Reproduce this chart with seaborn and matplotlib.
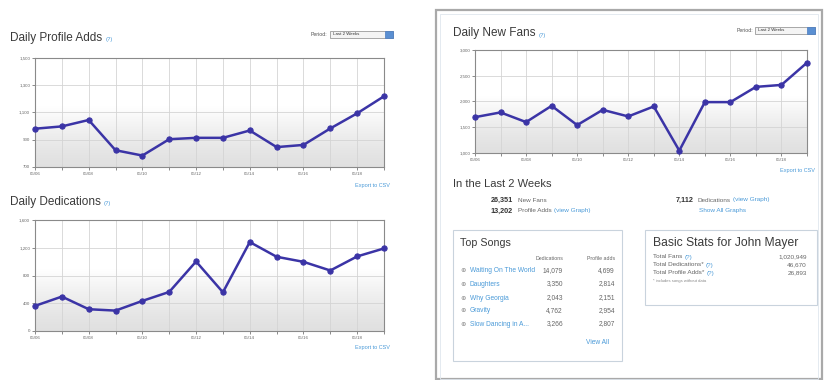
import matplotlib
matplotlib.use('Agg')
import matplotlib.pyplot as plt
import seaborn as sns
import numpy as np
import pandas as pd
from matplotlib.patches import Rectangle

# ---------------- data ----------------
dates = ['05/06', '05/07', '05/08', '05/09', '05/10', '05/11', '05/12',
         '05/13', '05/14', '05/15', '05/16', '05/17', '05/18', '05/19']
profile_adds = [981, 998, 1045, 823, 784, 904, 914, 914, 968, 846, 862, 983, 1094, 1219]
dedications = [362, 496, 314, 294, 434, 563, 1002, 558, 1282, 1070, 997, 872, 1075, 1190]
new_fans = [1696, 1788, 1600, 1916, 1542, 1838, 1710, 1904, 1046, 1988, 1988, 2284, 2322, 2754]

profile_yticks = [700, 900, 1100, 1300, 1500]
profile_ylabels = ['700', '900', '1,100', '1,300', '1,500']
ded_yticks = [0, 400, 800, 1200, 1600]
ded_ylabels = ['0', '400', '800', '1,200', '1,600']
fans_yticks = [1000, 1500, 2000, 2500, 3000]
fans_ylabels = ['1,000', '1,500', '2,000', '2,500', '3,000']

summary_numbers = ['26,351', '13,202', '7,112']
summary_labels = ['New Fans', 'Profile Adds', 'Dedications']

song_names = ['Waiting On The World', 'Daughters', 'Why Georgia', 'Gravity', 'Slow Dancing in A...']
song_dedications = ['14,079', '3,350', '2,043', '4,762', '3,266']
song_profile_adds = ['4,699', '2,814', '2,151', '2,954', '2,807']

stat_labels = ['Total Fans', 'Total Dedications*', 'Total Profile Adds*']
stat_values = ['1,020,949', '46,670', '26,893']

# ---------------- style ----------------
sns.set_theme(style='white')
plt.rcParams['font.family'] = ['Liberation Sans', 'DejaVu Sans']

W, H = 824, 380
fig = plt.figure(figsize=(8.24, 3.8), dpi=100)
fig.patch.set_facecolor('white')
renderer = fig.canvas.get_renderer()

LINE = '#3b34a6'
LINK = '#4a9ad8'
DARK = '#333333'
GREY = '#666666'


def fx(x):
    return x / W


def fy(y):
    return 1 - y / H


def txt(x, y, s, size, color=DARK, ha='left', weight='normal', va='center', family=None):
    kw = {}
    if family is not None:
        kw['family'] = family
    return fig.text(fx(x), fy(y), s, fontsize=size, color=color, ha=ha, va=va,
                    fontweight=weight, **kw)


def after(t, y, s, size, color=LINK, gap=3):
    """place text s right after text object t (pixel gap)"""
    bb = t.get_window_extent(renderer=renderer)
    return txt(bb.x1 + gap, y, s, size, color)


def frect(x0, y0, x1, y1, fc='white', ec='#999999', lw=0.8, z=0):
    fig.add_artist(Rectangle((fx(x0), fy(y1)), (x1 - x0) / W, (y1 - y0) / H,
                             transform=fig.transFigure, facecolor=fc,
                             edgecolor=ec, linewidth=lw, zorder=z))


# right panel background
frect(436, 10, 822, 379, fc='white', ec='#a9a9a9', lw=1.6, z=0)
frect(440, 14, 818, 379, fc='none', ec='#dfe6ee', lw=0.6, z=0)


def chart(x0, y0, x1, y1, values, yticks, ylabels):
    ax = fig.add_axes([fx(x0), fy(y1), (x1 - x0) / W, (y1 - y0) / H])
    n = len(values)
    df = pd.DataFrame({'day': np.arange(n), 'value': values})
    # background gradient: white top, light grey towards bottom
    t = np.linspace(1, 0, 200)[:, None]
    g = np.where(t > 0.55, 1.0, 0.88 + (1 - 0.88) * (t / 0.55) ** 1.3)
    img = np.dstack([g, g, g])
    ax.imshow(img, extent=[0, n - 1, yticks[0], yticks[-1]], aspect='auto',
              zorder=0, interpolation='bilinear')
    sns.lineplot(data=df, x='day', y='value', ax=ax, color=LINE, linewidth=1.8,
                 marker='o', markersize=3.8, markeredgecolor=LINE,
                 clip_on=False, zorder=3)
    ax.set_xlim(0, n - 1)
    ax.set_ylim(yticks[0], yticks[-1])
    ax.set_xticks(range(n))
    ax.set_xticklabels([d if i % 2 == 0 else '' for i, d in enumerate(dates)])
    ax.set_yticks(yticks)
    ax.set_yticklabels(ylabels)
    ax.set_xlabel('')
    ax.set_ylabel('')
    ax.grid(True, color='#d4d4d4', linewidth=0.6)
    ax.set_axisbelow(True)
    ax.tick_params(axis='both', length=2, width=0.6, color='#777777',
                   labelsize=3.2, labelcolor='#666666', pad=1.5)
    ax.tick_params(axis='both', which='both', bottom=True, left=True)
    for s in ax.spines.values():
        s.set_color('#8a8a8a')
        s.set_linewidth(0.8)
    return ax


def dropdown(label_right, bx0, bx1, yc):
    txt(label_right, yc, 'Period:', 3.8, '#555555', ha='right')
    frect(bx0, yc - 3.5, bx1, yc + 3.5, fc='#f4f4f4', ec='#9a9a9a', lw=0.6, z=2)
    txt(bx0 + 3, yc, 'Last 2 Weeks', 3.2, '#333333')
    frect(bx1 - 8, yc - 3.5, bx1, yc + 3.5, fc='#5a8fd2', ec='#4a7cc0', lw=0.5, z=3)


# ---------- left top: Daily Profile Adds ----------
t = txt(10, 38, 'Daily Profile Adds', 8.5, '#3a3a3a')
after(t, 40, '(?)', 4.2)
dropdown(327, 330, 393, 34)
chart(35, 58, 384, 167, profile_adds, profile_yticks, profile_ylabels)
txt(390, 186, 'Export to CSV', 4.0, LINK, ha='right')

# ---------- left bottom: Daily Dedications ----------
t = txt(10, 202, 'Daily Dedications', 8.5, '#3a3a3a')
after(t, 204, '(?)', 4.2)
chart(35, 220, 384, 331, dedications, ded_yticks, ded_ylabels)
txt(390, 348, 'Export to CSV', 4.0, LINK, ha='right')

# ---------- right: Daily New Fans ----------
t = txt(453, 33, 'Daily New Fans', 8.5, '#3a3a3a')
after(t, 35, '(?)', 4.2)
dropdown(753, 755, 815, 30)
chart(475, 50, 807, 153, new_fans, fans_yticks, fans_ylabels)
txt(815, 170, 'Export to CSV', 4.0, LINK, ha='right')

# ---------- In the Last 2 Weeks ----------
txt(453, 184, 'In the Last 2 Weeks', 8.0, '#3a3a3a')
txt(513, 200, summary_numbers[0], 5.2, DARK, ha='right', weight='bold')
txt(518, 200, summary_labels[0], 4.6, GREY)
txt(513, 211, summary_numbers[1], 5.2, DARK, ha='right', weight='bold')
t = txt(518, 211, summary_labels[1], 4.6, GREY)
after(t, 211, '(view Graph)', 4.6, gap=2)
txt(694, 200, summary_numbers[2], 5.2, DARK, ha='right', weight='bold')
t = txt(698, 200, summary_labels[2], 4.6, GREY)
after(t, 200, '(view Graph)', 4.6, gap=2)
txt(723, 211, 'Show All Graphs', 4.6, LINK, ha='center')

# ---------- Top Songs box ----------
frect(453, 230, 622, 361, fc='white', ec='#c9d3dd', lw=0.8, z=1)
txt(460, 243, 'Top Songs', 7.7, '#3a3a3a')
txt(563, 259, 'Dedications', 3.8, GREY, ha='right')
txt(615, 259, 'Profile adds', 3.8, GREY, ha='right')
row_y = [271, 284, 298, 311, 324]
for yy, name, d, p in zip(row_y, song_names, song_dedications, song_profile_adds):
    txt(463, yy, '\u2295', 4.6, '#8a8a8a', ha='center', family=['DejaVu Sans'])
    txt(470, yy, name, 4.8, LINK)
    txt(563, yy, d, 4.8, GREY, ha='right')
    txt(615, yy, p, 4.8, GREY, ha='right')
txt(597, 343, 'View All', 4.8, LINK, ha='center')

# ---------- Basic Stats box ----------
frect(645, 230, 817, 305, fc='white', ec='#c9d3dd', lw=0.8, z=1)
txt(653, 243, 'Basic Stats for John Mayer', 8.7, '#3a3a3a')
stat_y = [257, 265, 273]
for yy, lab, val in zip(stat_y, stat_labels, stat_values):
    t = txt(653, yy, lab, 4.6, GREY)
    after(t, yy, '(?)', 4.6, gap=2)
    txt(807, yy, val, 4.6, GREY, ha='right')
txt(653, 281, '* includes songs without data', 3.0, '#888888')

fig.savefig('out.png', dpi=100, facecolor='white')
